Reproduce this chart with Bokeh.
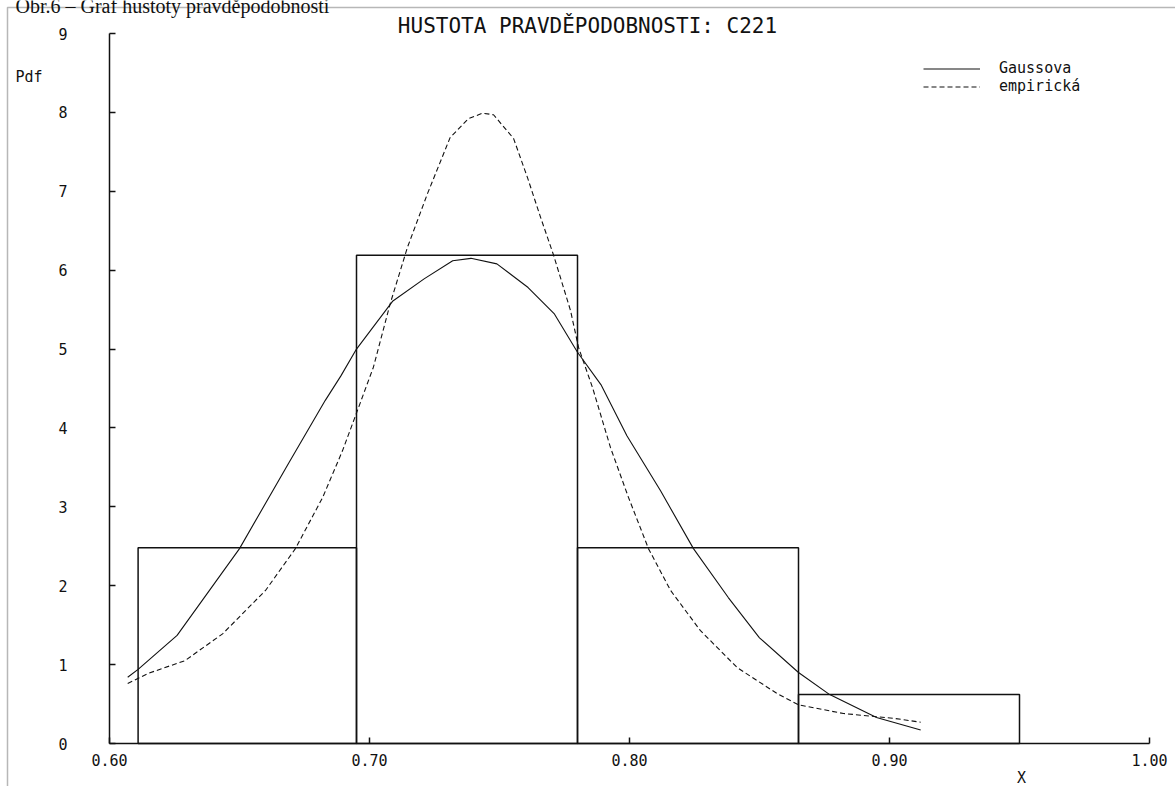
from bokeh.plotting import figure
from bokeh.models import (Range1d, FixedTicker, Label, Legend, LegendItem,
                          BoxAnnotation, CustomJSTickFormatter)
from bokeh.embed import file_html
from bokeh.resources import INLINE

# ---- data ----
bin_edges = [0.611, 0.695, 0.780, 0.865, 0.950]
bin_heights = [2.48, 6.19, 2.48, 0.62]

gauss_x = [0.607, 0.611, 0.626, 0.650, 0.669, 0.683, 0.689, 0.695, 0.709, 0.721,
           0.732, 0.739, 0.749, 0.761, 0.771, 0.780, 0.789, 0.799, 0.812, 0.8246,
           0.838, 0.850, 0.865, 0.877, 0.895, 0.912]
gauss_y = [0.84, 0.94, 1.37, 2.47, 3.56, 4.35, 4.66, 5.00, 5.61, 5.89,
           6.12, 6.15, 6.08, 5.78, 5.45, 4.96, 4.55, 3.90, 3.20, 2.47,
           1.85, 1.34, 0.90, 0.62, 0.33, 0.17]

emp_x = [0.607, 0.615, 0.629, 0.6435, 0.660, 0.6715, 0.682, 0.6896, 0.6958, 0.7015,
         0.708, 0.7146, 0.7223, 0.731, 0.738, 0.7435, 0.7477, 0.7554, 0.7608, 0.7658,
         0.7708, 0.7773, 0.7804, 0.7858, 0.7927, 0.7996, 0.8073, 0.8158, 0.8273, 0.8415,
         0.8569, 0.865, 0.8823, 0.9015, 0.912]
emp_y = [0.76, 0.89, 1.05, 1.39, 1.94, 2.47, 3.12, 3.71, 4.26, 4.77,
         5.58, 6.29, 6.97, 7.68, 7.92, 7.99, 7.97, 7.67, 7.17, 6.67,
         6.19, 5.49, 5.02, 4.51, 3.75, 3.12, 2.47, 1.94, 1.43, 0.96,
         0.63, 0.49, 0.38, 0.32, 0.27]

x_ticks = [0.6, 0.7, 0.8, 0.9, 1.0]
y_ticks = [0, 1, 2, 3, 4, 5, 6, 7, 8, 9]

title_text = "HUSTOTA PRAVDĚPODOBNOSTI: C221"
caption_text = "Obr.6 – Graf hustoty pravděpodobnosti"
legend_labels = ["Gaussova", "empirická"]

MONO = "DejaVu Sans Mono"
INK = "#111111"

W, H = 1175, 786
# plot area in page pixels: x 0.60 -> 109, 1.00 -> 1149 ; y 0 -> 743, 9 -> 33
px_per_x = (1149 - 109) / (x_ticks[-1] - x_ticks[0])
px_per_y = (743 - 33) / (y_ticks[-1] - y_ticks[0])
x_rng = Range1d(x_ticks[0] - 109 / px_per_x, x_ticks[-1] + (W - 1149) / px_per_x)
y_rng = Range1d(y_ticks[0] - (H - 743) / px_per_y, y_ticks[-1] + 33 / px_per_y)

p = figure(width=W, height=H, output_backend="svg", toolbar_location=None,
           x_range=x_rng, y_range=y_rng,
           min_border_left=0, min_border_right=0, min_border_top=0,
           min_border_bottom=0)
p.outline_line_color = None
p.grid.visible = False
p.background_fill_color = "white"
p.border_fill_color = "white"

for ax in (p.xaxis[0], p.yaxis[0]):
    ax.axis_line_color = INK
    ax.axis_line_width = 1.5
    ax.major_tick_line_color = INK
    ax.major_tick_line_width = 1.5
    ax.major_tick_in = 6
    ax.major_tick_out = 0
    ax.minor_tick_line_color = None
    ax.major_label_text_font = MONO
    ax.major_label_text_font_size = "15px"
    ax.major_label_text_color = INK

p.xaxis.ticker = FixedTicker(ticks=x_ticks)
p.xaxis.formatter = CustomJSTickFormatter(code="return tick.toFixed(2);")
p.xaxis.major_label_standoff = 10
p.xaxis.fixed_location = y_ticks[0]
p.xaxis.bounds = (x_ticks[0], x_ticks[-1])
p.yaxis.ticker = FixedTicker(ticks=y_ticks)
p.yaxis.major_label_standoff = 42
p.yaxis.fixed_location = x_ticks[0]
p.yaxis.bounds = (y_ticks[0], y_ticks[-1])

# histogram
p.quad(left=bin_edges[:-1], right=bin_edges[1:], bottom=0, top=bin_heights,
       fill_color=None, line_color=INK, line_width=1.5)

# curves
r_g = p.line(gauss_x, gauss_y, line_color=INK, line_width=1.1)
r_e = p.line(emp_x, emp_y, line_color=INK, line_width=1.1, line_dash="5 3")

legend = Legend(items=[LegendItem(label=legend_labels[0], renderers=[r_g]),
                       LegendItem(label=legend_labels[1], renderers=[r_e])],
                location=(923, 691), orientation="vertical",
                glyph_width=57, glyph_height=15, label_height=15,
                label_standoff=19, spacing=0, padding=0, margin=0,
                label_text_font=MONO, label_text_font_size="15px",
                label_text_color=INK, border_line_color=None,
                background_fill_alpha=0)
p.add_layout(legend)

# texts (screen units from the bottom-left of the canvas)
def lab(x, y, text, size="15px", font=MONO, align="left", baseline="middle"):
    p.add_layout(Label(x=x, y=H - y, x_units="screen", y_units="screen", text=text,
                       text_font=font, text_font_size=size, text_align=align,
                       text_baseline=baseline, text_color=INK))

lab(587, 25, title_text, size="21px", align="center")
lab(15, 76, "Pdf")
lab(1021, 777, "X", align="center")
lab(15, 5, caption_text, size="20px", font="Liberation Serif", baseline="alphabetic")

# page frame around the chart
p.add_layout(BoxAnnotation(left=7, right=1400, top=H - 7, bottom=-200,
                           left_units="screen", right_units="screen",
                           top_units="screen", bottom_units="screen",
                           fill_alpha=0, line_color=INK, line_width=1.5))

open("out.html", "w").write(file_html(p, INLINE))
